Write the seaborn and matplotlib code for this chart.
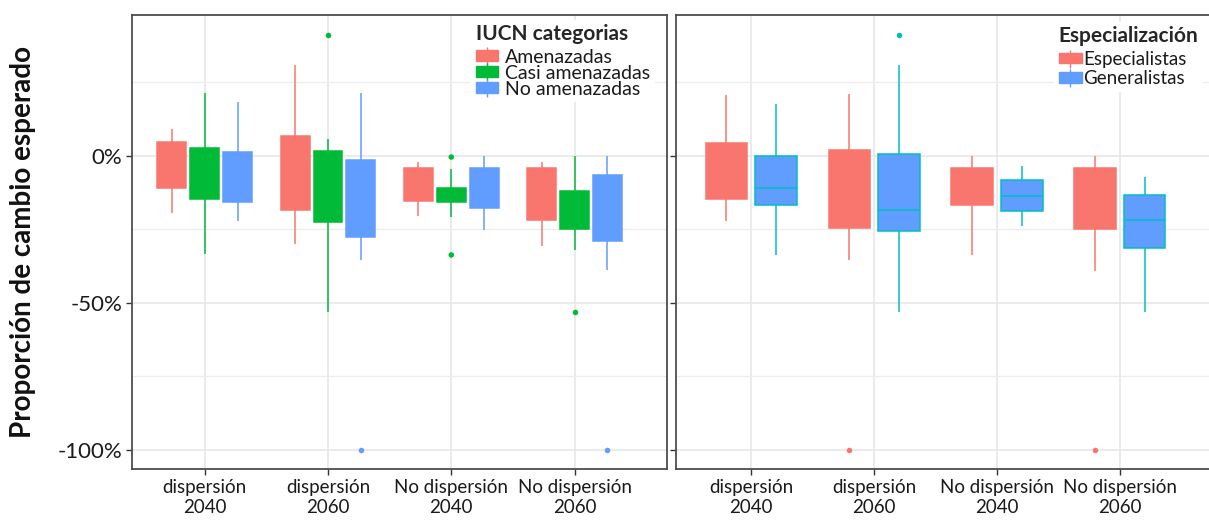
import numpy as np
import pandas as pd
import matplotlib
matplotlib.use("Agg")
import matplotlib.pyplot as plt
import seaborn as sns
from matplotlib.patches import Patch
from matplotlib.lines import Line2D
from matplotlib.legend_handler import HandlerTuple
from matplotlib.ticker import FuncFormatter, MultipleLocator

escenarios = ["dispersión\n2040", "dispersión\n2060", "No dispersión\n2040", "No dispersión\n2060"]

# panel izquierdo: categorias IUCN (valores en %)
iucn = ["Amenazadas", "Casi amenazadas", "No amenazadas"]
amen_min = [-19.6, -30.0, -20.3, -30.5]
amen_q1 = [-10.9, -18.3, -15.3, -21.8]
amen_med = [-3.0, -6.0, -9.5, -13.0]
amen_q3 = [4.7, 6.7, -4.1, -4.1]
amen_max = [9.2, 31.0, -2.1, -2.1]

casi_min = [-33.3, -53.0, -20.7, -32.0]
casi_q1 = [-14.8, -22.6, -15.8, -25.0]
casi_med = [-6.0, -10.0, -13.4, -18.5]
casi_q3 = [2.7, 1.7, -11.0, -12.0]
casi_max = [21.4, 5.7, -4.6, 0.0]

noam_min = [-22.1, -35.4, -25.1, -38.8]
noam_q1 = [-15.8, -27.6, -17.8, -29.0]
noam_med = [-7.0, -14.0, -11.0, -18.0]
noam_q3 = [1.3, -1.3, -4.1, -6.6]
noam_max = [18.4, 21.4, 0.0, 0.0]

out_iucn_grupo = ["Casi amenazadas", "No amenazadas", "Casi amenazadas", "Casi amenazadas",
                  "Casi amenazadas", "No amenazadas"]
out_iucn_esc = [escenarios[1], escenarios[1], escenarios[2], escenarios[2], escenarios[3], escenarios[3]]
out_iucn_val = [41.2, -100.0, -0.4, -33.7, -53.0, -100.0]

# panel derecho: especializacion
espec = ["Especialistas", "Generalistas"]
esp_min = [-22.1, -35.4, -33.7, -39.2]
esp_q1 = [-14.8, -24.6, -16.7, -25.0]
esp_med = [-5.0, -11.0, -10.0, -14.0]
esp_q3 = [4.2, 2.1, -4.2, -4.2]
esp_max = [20.7, 21.2, 0.0, 0.0]

gen_min = [-33.7, -53.0, -23.7, -53.0]
gen_q1 = [-16.7, -25.4, -18.7, -31.2]
gen_med = [-11.1, -18.5, -13.6, -21.9]
gen_q3 = [0.0, 0.6, -8.2, -13.2]
gen_max = [17.8, 31.0, -3.6, -7.1]

out_esp_grupo = ["Especialistas", "Generalistas", "Especialistas"]
out_esp_esc = [escenarios[1], escenarios[1], escenarios[3]]
out_esp_val = [-100.0, 41.0, -100.0]

pal_iucn = {"Amenazadas": "#F8766D", "Casi amenazadas": "#00BA38", "No amenazadas": "#619CFF"}
fill_esp = {"Especialistas": "#F8766D", "Generalistas": "#619CFF"}
line_esp = {"Especialistas": "#F8766D", "Generalistas": "#00BFC4"}


def cajas(grupo, mins, q1s, meds, q3s, maxs):
    filas = []
    for esc, a, b, c, d, e in zip(escenarios, mins, q1s, meds, q3s, maxs):
        for v in (a, b, c, d, e):
            filas.append({"escenario": esc, "grupo": grupo, "valor": v})
    return filas


df_iucn = pd.DataFrame(cajas("Amenazadas", amen_min, amen_q1, amen_med, amen_q3, amen_max)
                       + cajas("Casi amenazadas", casi_min, casi_q1, casi_med, casi_q3, casi_max)
                       + cajas("No amenazadas", noam_min, noam_q1, noam_med, noam_q3, noam_max))
df_esp = pd.DataFrame(cajas("Especialistas", esp_min, esp_q1, esp_med, esp_q3, esp_max)
                      + cajas("Generalistas", gen_min, gen_q1, gen_med, gen_q3, gen_max))
out_iucn = pd.DataFrame({"escenario": out_iucn_esc, "grupo": out_iucn_grupo, "valor": out_iucn_val})
out_esp = pd.DataFrame({"escenario": out_esp_esc, "grupo": out_esp_grupo, "valor": out_esp_val})

sns.set_style("white")
plt.rcParams["font.family"] = ["Lato", "DejaVu Sans"]

fig = plt.figure(figsize=(12.09, 5.21), dpi=100)
ax1 = fig.add_axes([132 / 1209, 52 / 521, 535 / 1209, 454 / 521])
ax2 = fig.add_axes([676 / 1209, 52 / 521, 535 / 1209, 454 / 521])


def panel(ax, df, out, niveles, relleno, linea, gap, xlim):
    sns.boxplot(data=df, x="escenario", y="valor", hue="grupo", order=escenarios,
                hue_order=niveles, palette=relleno, saturation=1, whis=(0, 100), width=0.8,
                gap=gap, linewidth=1.1, showcaps=False, legend=False, ax=ax)
    for cont, g in zip(ax.containers, niveles):
        c = linea[g]
        for b in cont.boxes:
            b.set_edgecolor(c)
        for l in list(cont.whiskers) + list(cont.medians):
            l.set_color(c)
    sns.stripplot(data=out, x="escenario", y="valor", hue="grupo", order=escenarios,
                  hue_order=niveles, palette=linea, dodge=True, jitter=False, size=4,
                  legend=False, ax=ax)
    ax.set_xlim(*xlim)
    ax.set_ylim(-106.5, 47.9)
    ax.yaxis.set_major_locator(MultipleLocator(50))
    ax.yaxis.set_minor_locator(MultipleLocator(25))
    ax.yaxis.set_major_formatter(FuncFormatter(lambda v, p: f"{v:.0f}%"))
    ax.set_axisbelow(True)
    ax.grid(True, which="major", axis="both", color="#e6e6e6", lw=1.1)
    ax.grid(True, which="minor", axis="y", color="#ededed", lw=0.9)
    ax.tick_params(which="major", length=4, width=1, color="#333333", pad=3,
                   bottom=True, left=True)
    ax.tick_params(which="minor", length=0)
    ax.tick_params(axis="x", labelsize=13.5, labelcolor="#1a1a1a")
    ax.tick_params(axis="y", labelsize=16, labelcolor="#1a1a1a")
    for s in ax.spines.values():
        s.set_visible(True)
        s.set_color("#4d4d4d")
        s.set_linewidth(1.3)
        s.set_zorder(5)
    ax.set_xlabel("")
    ax.set_ylabel("")


panel(ax1, df_iucn, out_iucn, iucn, pal_iucn, pal_iucn, 0.12, (-0.59, 3.75))
panel(ax2, df_esp, out_esp, espec, fill_esp, line_esp, 0.15, (-0.61, 3.74))
ax2.set_yticklabels([])


def leyenda(ax, niveles, relleno, linea, titulo, tam, espacio, largo, textpad, ancla):
    handles = [(Patch(facecolor=relleno[g], edgecolor=relleno[g]),
                Line2D([], [], color=linea[g], marker="|", markersize=13,
                       markeredgewidth=1, linestyle="none")) for g in niveles]
    leg = ax.legend(handles, niveles, title=titulo, loc="upper right", bbox_to_anchor=ancla,
                    handler_map={tuple: HandlerTuple(ndivide=1, pad=0)},
                    fontsize=tam, title_fontproperties={"weight": "bold", "size": 15},
                    frameon=True, facecolor="white", edgecolor="none", framealpha=1,
                    fancybox=False, handlelength=largo, handleheight=0.5,
                    handletextpad=textpad, labelspacing=espacio, borderpad=0.25,
                    borderaxespad=0, alignment="left")
    leg._legend_box.sep = 3
    for t in leg.get_texts():
        t.set_color("#1a1a1a")
    return leg


leyenda(ax1, iucn, pal_iucn, pal_iucn, "IUCN categorias", 14, -0.05, 1.15, 0.35, (0.978, 0.99))
leyenda(ax2, espec, fill_esp, fill_esp, "Especialización", 13.5, 0.12, 1.25, 0.05, (0.985, 0.985))

fig.text(23 / 1209, 1 - 241.5 / 521, "Proporción de cambio esperado", rotation=90,
         ha="center", va="center", fontsize=20, fontweight="bold", color="#111111")

fig.savefig("out.png", dpi=100, facecolor="white")
